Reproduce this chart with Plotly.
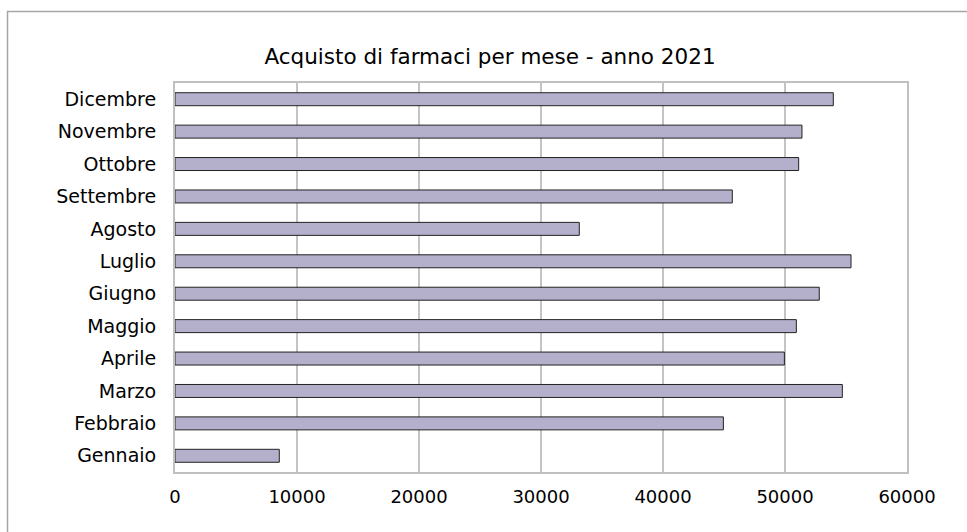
import plotly.graph_objects as go

months = ["Gennaio", "Febbraio", "Marzo", "Aprile", "Maggio", "Giugno",
          "Luglio", "Agosto", "Settembre", "Ottobre", "Novembre", "Dicembre"]
values = [8550, 44950, 54700, 49950, 50930, 52810,
          55410, 33140, 45680, 51120, 51390, 53960]
x_ticks = [0, 10000, 20000, 30000, 40000, 50000, 60000]
title_text = "Acquisto di farmaci per mese - anno 2021"

FONT = "DejaVu Sans"

fig = go.Figure(go.Bar(
    x=values, y=months, orientation="h",
    marker=dict(color="#b4b0cb", line=dict(color="#222222", width=1)),
))

fig.update_layout(
    width=967, height=532,
    margin=dict(l=175, r=60, t=83, b=60),
    paper_bgcolor="white", plot_bgcolor="white",
    bargap=0.6,
    showlegend=False,
    font=dict(family=FONT, size=18, color="#000000"),
    title=dict(text=title_text, x=490 / 967, xanchor="center",
               y=1 - 56 / 532, yanchor="middle",
               font=dict(family=FONT, size=21.5, color="#000000")),
    xaxis=dict(range=[0, 60000], tickvals=x_ticks,
               ticktext=[str(v) for v in x_ticks],
               showgrid=True, gridcolor="#c4c4c4", gridwidth=1.5,
               showline=True, linecolor="#c0c0c0", linewidth=2, mirror=True,
               zeroline=False, ticks="", ticklabelstandoff=7,
               tickfont=dict(family=FONT, size=18)),
    yaxis=dict(categoryorder="array", categoryarray=months,
               showgrid=False,
               showline=True, linecolor="#c0c0c0", linewidth=2, mirror=True,
               ticks="", ticklabelstandoff=13,
               tickfont=dict(family=FONT, size=19)),
    shapes=[dict(type="rect", xref="paper", yref="paper",
                 x0=(7.5 - 175) / 732, x1=1.5,
                 y0=-0.5, y1=(472 - 11.5) / 389,
                 line=dict(color="#a6a6a6", width=1.5), layer="below")],
)

fig.write_html("out.html", config={"displayModeBar": False},
               post_script="document.body.style.margin='0';document.body.style.overflow='hidden';")
